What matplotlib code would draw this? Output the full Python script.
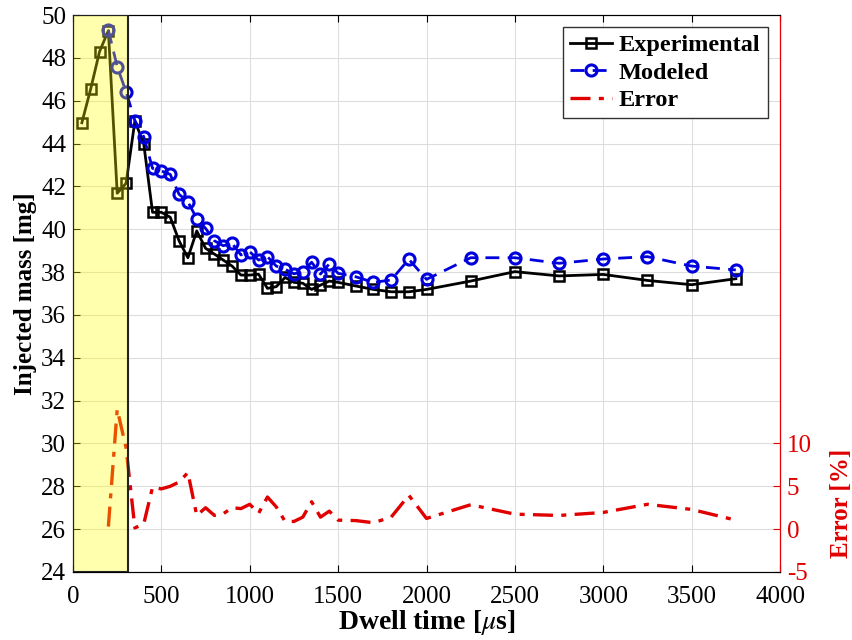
import numpy as np
import matplotlib.pyplot as plt
from matplotlib.patches import Rectangle

plt.rcParams['font.family'] = ['Liberation Serif', 'DejaVu Serif']
plt.rcParams['mathtext.fontset'] = 'stix'
plt.rcParams['axes.unicode_minus'] = False

# dwell time [us]
t_exp = [50, 100, 150, 200, 250, 300, 350, 400, 450, 500, 550, 600, 650, 700,
         750, 800, 850, 900, 950, 1000, 1050, 1100, 1150, 1200, 1250, 1300,
         1350, 1400, 1450, 1500, 1600, 1700, 1800, 1900, 2000, 2250, 2500,
         2750, 3000, 3250, 3500, 3750]
m_exp = [44.97, 46.55, 48.29, 49.27, 41.68, 42.14, 45.05, 44.0, 40.79, 40.79,
         40.56, 39.46, 38.67, 39.92, 39.11, 38.84, 38.56, 38.28, 37.86, 37.86,
         37.9, 37.24, 37.32, 37.75, 37.52, 37.48, 37.19, 37.39, 37.58, 37.52,
         37.35, 37.19, 37.08, 37.08, 37.19, 37.58, 38.02, 37.82, 37.89, 37.61,
         37.41, 37.69]

t_mod = t_exp[3:]
m_mod = [49.3, 47.59, 46.42, 45.07, 44.32, 42.84, 42.72, 42.56, 41.63, 41.28,
         40.5, 40.04, 39.46, 39.23, 39.34, 38.8, 38.95, 38.56, 38.72, 38.28,
         38.13, 37.92, 38.02, 38.46, 37.91, 38.38, 37.94, 37.78, 37.52, 37.63,
         38.6, 37.66, 38.67, 38.67, 38.41, 38.61, 38.72, 38.28, 38.1]

# relative error [%]
err = [0.3, 14.0, 9.5, 0.15, 0.6, 4.9, 4.7, 5.0, 5.5, 6.6, 1.6, 2.5, 1.6, 1.8,
       2.5, 2.4, 2.9, 1.85, 3.75, 2.6, 0.9, 0.9, 1.4, 3.2, 1.4, 2.1, 1.05,
       1.0, 0.75, 1.4, 3.95, 1.25, 2.85, 1.75, 1.6, 1.95, 2.9, 2.3, 1.05]

red = '#E00000'

fig = plt.figure(figsize=(8.52, 6.4), dpi=100)
ax = fig.add_axes([0.0857, 0.10625, 0.8298, 0.8703])

l1, = ax.plot(t_exp, m_exp, '-s', color='k', lw=2, ms=7, mfc='none', mew=1.8,
              label='Experimental', zorder=3)
l2, = ax.plot(t_mod, m_mod, '--o', color='#0000DD', lw=2, ms=8, mfc='none',
              mew=2.2, dashes=(5, 3), label='Modeled', zorder=3)

ax.set_xlim(0, 4000)
ax.set_ylim(24, 50)
ax.set_xticks(np.arange(0, 4001, 500))
ax.set_yticks(np.arange(24, 51, 2))
ax.grid(True, color='#DDDDDD', lw=0.8)
ax.set_axisbelow(True)
ax.tick_params(direction='in', labelsize=18, top=True, length=5)
ax.tick_params(axis='x', pad=10)
ax.tick_params(axis='y', pad=5)
ax.set_xlabel(r'Dwell time [$\mu$s]', fontsize=20, fontweight='bold', labelpad=0)
ax.set_ylabel('Injected mass [mg]', fontsize=18, fontweight='bold', labelpad=3)
for s in ax.spines.values():
    s.set_color('#333333')

ax2 = ax.twinx()
l3, = ax2.plot(t_mod, err, color=red, lw=2.4, dashes=(6, 2.5, 1.5, 2.5),
               label='Error', zorder=3)
ax2.set_ylim(-5, 60)
ax2.set_yticks([-5, 0, 5, 10])
ax2.tick_params(direction='in', labelsize=18, colors=red, length=5, pad=5)
ax2.spines['right'].set_color(red)
ax2.text(1.087, 0.124, 'Error [%]', transform=ax2.transAxes, rotation=90,
         ha='center', va='center', fontsize=18, fontweight='bold', color=red)

# shaded region of early dwell times
ax2.add_patch(Rectangle((0, 0), 310, 1, transform=ax2.get_xaxis_transform(),
                        facecolor=(1, 1, 0, 0.32), edgecolor='#222222',
                        lw=1.5, zorder=5))

leg = ax2.legend(handles=[l1, l2, l3], loc='upper right',
                 prop={'weight': 'bold', 'size': 17.5}, fancybox=False,
                 edgecolor='#333333', framealpha=1, handlelength=1.7,
                 handletextpad=0.3, borderpad=0.3, labelspacing=0.22,
                 borderaxespad=0.5)
leg.get_frame().set_linewidth(1)

fig.savefig('out.png', dpi=100)
